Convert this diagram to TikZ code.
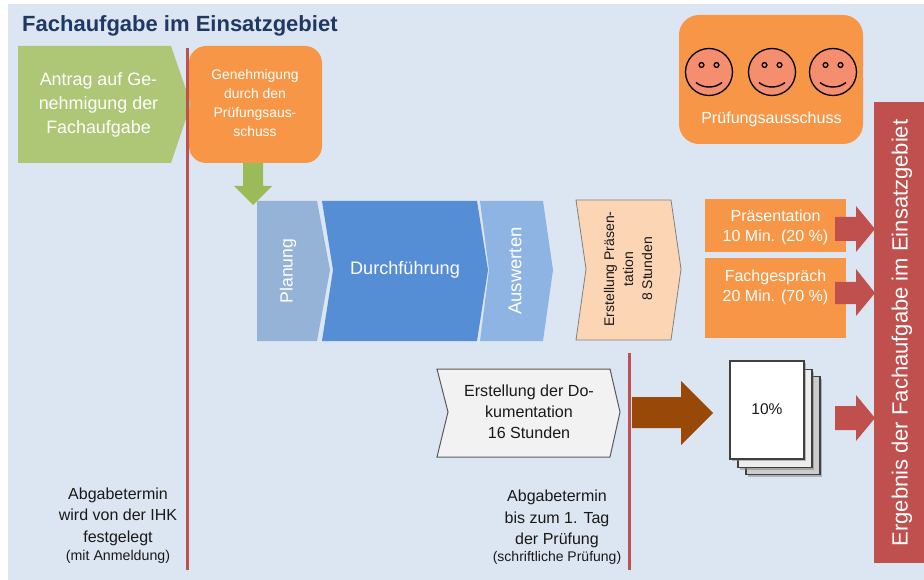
\documentclass[tikz,border=0pt]{standalone}
\usepackage{fontspec}
\setmainfont{Liberation Sans}
\usetikzlibrary{shadows}
\definecolor{panel}{HTML}{DCE6F2}
\definecolor{titleblue}{HTML}{1F3864}
\definecolor{greenbox}{HTML}{AEC776}
\definecolor{greenarrow}{HTML}{9BBB59}
\definecolor{orangebox}{HTML}{F79646}
\definecolor{redbar}{HTML}{C0504D}
\definecolor{facefill}{HTML}{F58D6F}
\definecolor{planfill}{HTML}{95B3D7}
\definecolor{doitfill}{HTML}{558ED5}
\definecolor{evalfill}{HTML}{8EB4E3}
\definecolor{peach}{HTML}{FCD5B5}
\definecolor{brownarrow}{HTML}{984807}
\newcommand{\fs}[2]{\fontsize{#1}{#2}\selectfont}
\newcommand{\smiley}[2]{
  \node [face] (#2) at (#1) {};
  \begin{scope}[shift={(#1)}]
    \draw [line width=1.3pt] (-7.5,-7) circle (2.4) (7.5,-7) circle (2.4);
    \draw [line width=1.4pt] (-13,10.5) .. controls (-6,16.5) and (6,16.5) .. (13,10.5);
  \end{scope}
}
\begin{document}
\begin{tikzpicture}[x=1pt,y=-1pt,
  whitetext/.style={text=white,align=center,inner sep=0pt},
  darktext/.style={text=black!90,align=center,inner sep=0pt},
  orangebox/.style={fill=orangebox,rounded corners=17pt,minimum width=133pt,minimum height=117pt,inner sep=0pt},
  taskbox/.style={fill=orangebox,inner sep=0pt,minimum width=141pt},
  face/.style={circle,draw=black,line width=1.3pt,fill=facefill,minimum size=47pt,inner sep=0pt},
  page/.style={draw=black!75,line width=1.2pt,minimum width=74pt,minimum height=98pt,inner sep=0pt,drop shadow={shadow xshift=2pt,shadow yshift=-2pt,opacity=0.5}},
  redline/.style={draw=redbar,line width=3pt},
  redarrow/.style={fill=redbar}]
  \useasboundingbox (0,0) rectangle (924,580);
  \fill [panel] (8,4) rectangle (924,580);

  \node [anchor=base west,inner sep=0pt,text=titleblue,font=\fs{22}{26}\bfseries] (title) at (22,32) {Fachaufgabe im Einsatzgebiet};

  % Antrag
  \node [orangebox] (genehmigung) at (255.5,104.5) {};
  \node [whitetext,font=\fs{13.9}{19}] (genehmigungtext) at (255,103.5) {Genehmigung\\durch den\\Prüfungsaus-\\schuss};
  \fill [greenbox] (18,46) -- (171,46) -- (191,104) -- (171,163) -- (18,163) -- cycle;
  \node [whitetext,font=\fs{17.9}{24}] (antrag) at (98.5,104.5) {Antrag auf Ge-\\nehmigung der\\Fachaufgabe};
  \draw [redline] (187,48) -- (187,570);
  \fill [greenarrow] (243,163) -- (263,163) -- (263,186) -- (272,186) -- (253,205) -- (234,186) -- (243,186) -- cycle;

  % Ausschuss
  \node [fill=orangebox,rounded corners=20pt,minimum width=184pt,minimum height=129pt] (ausschuss) at (771,79.5) {};
  \smiley{709,72}{faceA}
  \smiley{772,72}{faceB}
  \smiley{833,72}{faceC}
  \node [whitetext,font=\fs{16.1}{18}] (ausschusstext) at (771.5,119) {Prüfungsausschuss};

  % Phasen
  \fill [planfill] (257,201) -- (317,201) -- (330,270) -- (317,341) -- (257,341) -- cycle;
  \node [whitetext,rotate=90,font=\fs{17.6}{20}] (planung) at (288,271) {Planung};
  \fill [doitfill] (322,201) -- (477,201) -- (488,270) -- (477,341) -- (322,341) -- (333,270) -- cycle;
  \node [whitetext,font=\fs{18.1}{20}] (durchfuehrung) at (405,270) {Durchführung};
  \fill [evalfill] (480,201) -- (543,201) -- (553,270) -- (543,341) -- (480,341) -- (489,270) -- cycle;
  \node [whitetext,rotate=90,font=\fs{18.5}{20}] (auswerten) at (515,271) {Auswerten};

  \draw [fill=peach,draw=black!50,line width=.8pt] (576,200) -- (671,200) -- (681,269) -- (671,340) -- (576,340) -- (586,269) -- cycle;
  \node [darktext,rotate=90,font=\fs{14}{19}] (praesentieren) at (628,269) {Erstellung Präsen-\\tation\\8 Stunden};

  % Teilergebnisse
  \node [taskbox,minimum height=53pt] (praesentation) at (775.5,225.5) {};
  \node [whitetext,font=\fs{16}{20}] (praesentationtext) at (775.5,227) {Präsentation\\10 Min. (20 \%)};
  \node [taskbox,minimum height=80pt] (fachgespraech) at (775.5,298) {};
  \node [whitetext,font=\fs{16}{20}] (fachgespraechtext) at (775.5,287) {Fachgespräch\\20 Min. (70 \%)};
  \fill [redarrow] (835,217) -- (856,217) -- (856,206) -- (875,229) -- (856,252) -- (856,241) -- (835,241) -- cycle;
  \fill [redarrow] (835,282) -- (856,282) -- (856,269) -- (875,293) -- (856,316) -- (856,304) -- (835,304) -- cycle;

  % Ergebnis
  \node [fill=redbar,minimum width=50pt,minimum height=461pt,inner sep=0pt] (ergebnis) at (899,332.5) {};
  \node [whitetext,rotate=90,font=\fs{22}{24}] (ergebnistext) at (902,333) {Ergebnis der Fachaufgabe im Einsatzgebiet};

  % Dokumentation
  \draw [fill=black!5,draw=black!65,line width=1pt] (437,369) -- (610,369) -- (620,412) -- (610,457) -- (437,457) -- (448,412) -- cycle;
  \node [darktext,font=\fs{16.1}{21}] (doku) at (529,412) {Erstellung der Do-\\kumentation\\16 Stunden};
  \draw [redline] (629,353) -- (629,570);
  \fill [brownarrow] (632,397) -- (681,397) -- (681,381) -- (713,413) -- (681,445) -- (681,428) -- (632,428) -- cycle;
  \node [page,fill=black!20] (pageC) at (783,425.5) {};
  \node [page,fill=black!7] (pageB) at (775,418.5) {};
  \node [page,fill=white] (pageA) at (767,410) {};
  \node [darktext,font=\fs{15.5}{18}] (zehn) at (767,409) {10\%};
  \fill [redarrow] (835,406) -- (856,406) -- (856,395) -- (875,418) -- (856,441) -- (856,430) -- (835,430) -- cycle;

  % Termine
  \node [darktext,font=\fs{16}{21.5}] (terminA) at (118,516.5) {Abgabetermin\\wird von der IHK\\festgelegt};
  \node [darktext,font=\fs{14.2}{15}] (anmeldung) at (118,557) {(mit Anmeldung)};
  \node [darktext,font=\fs{16}{21.5}] (terminB) at (557,519) {Abgabetermin\\bis zum 1. Tag\\der Prüfung};
  \node [darktext,font=\fs{14}{15}] (schriftlich) at (557,558) {(schriftliche Prüfung)};
\end{tikzpicture}
\end{document}
